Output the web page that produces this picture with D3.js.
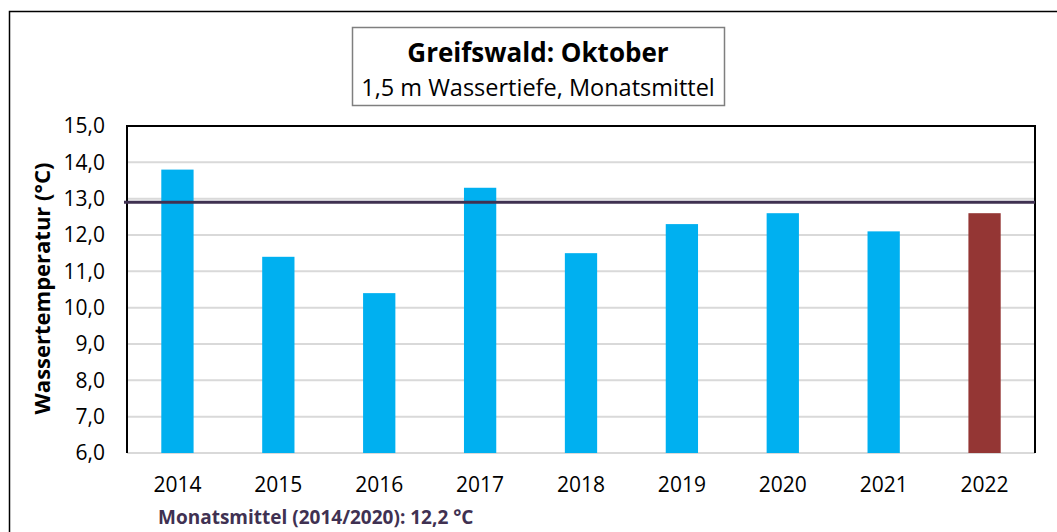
<!DOCTYPE html>
<head>
<meta charset="utf-8">
<title>Greifswald: Oktober</title>
<style>
    body { margin: 0; background: #fff; font-family: "Open Sans", "Noto Sans", sans-serif; }
    text { fill: #000; }
    .axis-title { font-size: 22px; font-weight: bold; }
    .note { font-size: 19px; font-weight: bold; fill: #403152; }
</style>
</head>
<body>
<script src="https://d3js.org/d3.v7.min.js"></script>
<script>

    const years = ["2014", "2015", "2016", "2017", "2018", "2019", "2020", "2021", "2022"];
    const temps = [13.8, 11.4, 10.4, 13.3, 11.5, 12.3, 12.6, 12.1, 12.6];
    const yTicks = [6, 7, 8, 9, 10, 11, 12, 13, 14, 15];
    const meanLine = 12.9;
    const title = "Greifswald: Oktober";
    const subtitle = "1,5 m Wassertiefe, Monatsmittel";
    const yLabel = "Wassertemperatur (°C)";
    const note = "Monatsmittel (2014/2020): 12,2 °C";

    const W = 1057, H = 532;
    const plot = {left: 127, right: 1035, top: 126, bottom: 453};

    const svg = d3.select("body").append("svg")
        .attr("width", W)
        .attr("height", H);

    // outer frame (left + top only visible)
    svg.append("path")
        .attr("d", `M9.5,${H} L9.5,11.5 L${W},11.5`)
        .attr("fill", "none")
        .attr("stroke", "#000")
        .attr("stroke-width", 1.5);

    const x = d3.scaleBand()
        .domain(years)
        .range([plot.left, plot.right])
        .paddingInner(0.68)
        .paddingOuter(0.34);

    const y = d3.scaleLinear().domain([6, 15]).range([plot.bottom, plot.top]);

    // gridlines
    svg.selectAll(".grid")
        .data(yTicks)
        .join("line")
        .attr("class", "grid")
        .attr("x1", plot.left)
        .attr("x2", plot.right)
        .attr("y1", d => y(d))
        .attr("y2", d => y(d))
        .attr("stroke", "#d9d9d9")
        .attr("stroke-width", 2);

    // bars
    svg.selectAll(".bar")
        .data(years)
        .join("rect")
        .attr("class", "bar")
        .attr("x", d => x(d))
        .attr("width", x.bandwidth())
        .attr("y", (d, i) => y(temps[i]))
        .attr("height", (d, i) => y(6) - y(temps[i]))
        .attr("fill", d => d === "2022" ? "#943634" : "#00B0F0");

    // plot border: top, left, right
    svg.append("path")
        .attr("d", `M${plot.left},${plot.bottom} L${plot.left},${plot.top} L${plot.right},${plot.top} L${plot.right},${plot.bottom}`)
        .attr("fill", "none")
        .attr("stroke", "#000")
        .attr("stroke-width", 2);

    // mean line
    svg.append("line")
        .attr("x1", plot.left - 3)
        .attr("x2", plot.right)
        .attr("y1", y(meanLine))
        .attr("y2", y(meanLine))
        .attr("stroke", "#3F3151")
        .attr("stroke-width", 3);

    // y axis
    const yAxis = svg.append("g")
        .attr("transform", `translate(${plot.left},0)`)
        .call(d3.axisLeft(y).tickValues(yTicks).tickSize(0).tickPadding(22)
            .tickFormat(d => d3.format(".1f")(d).replace(".", ",")));
    yAxis.select(".domain").remove();
    yAxis.attr("font-family", null).attr("font-size", 21);
    yAxis.selectAll("text").attr("fill", "#000");

    // x axis
    const xAxis = svg.append("g")
        .attr("transform", `translate(0,${plot.bottom})`)
        .call(d3.axisBottom(x).tickSize(0).tickPadding(24));
    xAxis.select(".domain").remove();
    xAxis.attr("font-family", null).attr("font-size", 21);
    xAxis.selectAll("text").attr("fill", "#000");

    // y axis title
    svg.append("text")
        .attr("class", "axis-title")
        .attr("transform", `translate(50,${(plot.top + plot.bottom) / 2 - 1}) rotate(-90)`)
        .attr("text-anchor", "middle")
        .text(yLabel);

    // title box
    svg.append("rect")
        .attr("x", 352.5)
        .attr("y", 27.5)
        .attr("width", 372)
        .attr("height", 78)
        .attr("fill", "#fff")
        .attr("stroke", "#7f7f7f")
        .attr("stroke-width", 1.5);
    svg.append("text")
        .attr("x", 538)
        .attr("y", 62)
        .attr("text-anchor", "middle")
        .attr("font-size", 26)
        .attr("font-weight", "bold")
        .text(title);
    svg.append("text")
        .attr("x", 538)
        .attr("y", 96)
        .attr("text-anchor", "middle")
        .attr("font-size", 23.5)
        .text(subtitle);

    // footnote
    svg.append("text")
        .attr("class", "note")
        .attr("x", 158)
        .attr("y", 524)
        .text(note);
</script>
</body>
